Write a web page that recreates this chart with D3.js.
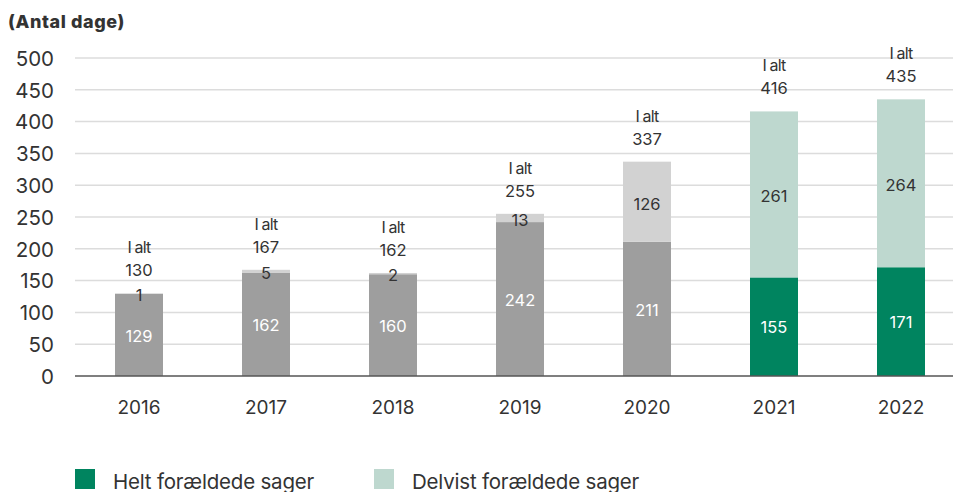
<!DOCTYPE html>
<html><head><meta charset="utf-8">
<script src="https://cdn.jsdelivr.net/npm/d3@7"></script>
<style>
body{margin:0;background:#fff;}
svg{font-family:"Inter","Liberation Sans",sans-serif;}
</style></head>
<body><svg id="c" width="953" height="492"></svg>
<script>
const years = ["2016","2017","2018","2019","2020","2021","2022"];
const helt = [129,162,160,242,211,155,171];
const delvist = [1,5,2,13,126,261,264];
const totals = [130,167,162,255,337,416,435];
const yTicks = [0,50,100,150,200,250,300,350,400,450,500];
const legendLabels = ["Helt forældede sager","Delvist forældede sager"];

const svg = d3.select("#c");
const W=953;
const x = d3.scaleBand().domain(years).range([75.5,964.5]).padding(0);
const y = d3.scaleLinear().domain([0,500]).range([376,58]);
const bw = 48;
const green = i => i>=5;
const col1 = i => green(i) ? "#00845f" : "#9e9e9e";
const col2 = i => green(i) ? "#bed8cf" : "#d2d2d2";
const txt="#333";

svg.append("text").attr("x",8).attr("y",28).attr("font-weight",800)
  .attr("font-size",18).attr("letter-spacing","0.6").attr("fill",txt).text("(Antal dage)");

// grid
svg.append("g").selectAll("line").data(yTicks.filter(d=>d>0)).join("line")
  .attr("x1",75).attr("x2",W).attr("y1",d=>y(d)).attr("y2",d=>y(d))
  .attr("stroke","#dcdcdc").attr("stroke-width",1.5);

const yAxis = d3.axisLeft(y).tickValues(yTicks).tickSize(0).tickPadding(0);
const gy = svg.append("g").attr("transform","translate(54,0)").call(yAxis);
gy.select(".domain").remove();
gy.selectAll("text").attr("font-size",20.5).attr("fill",txt).attr("font-family","Inter, sans-serif").attr("dy","0.36em");

// bars
const g = svg.append("g");
years.forEach((yr,i)=>{
  const cx = x(yr)+x.bandwidth()/2;
  g.append("rect").attr("x",cx-bw/2).attr("width",bw)
    .attr("y",y(helt[i])).attr("height",y(0)-y(helt[i])).attr("fill",col1(i));
  g.append("rect").attr("x",cx-bw/2).attr("width",bw)
    .attr("y",y(helt[i]+delvist[i])).attr("height",y(helt[i])-y(helt[i]+delvist[i])).attr("fill",col2(i));
  g.append("text").attr("x",cx).attr("y",y(helt[i]/2)+1).attr("dy","0.35em")
    .attr("text-anchor","middle").attr("font-size",16.5).attr("fill","#fff").text(helt[i]);
  g.append("text").attr("x",cx).attr("y",y(helt[i]+delvist[i]/2)+2).attr("dy","0.35em")
    .attr("text-anchor","middle").attr("font-size",16.5).attr("fill",txt).text(delvist[i]);
  g.append("text").attr("x",cx).attr("y",y(totals[i])-40).attr("text-anchor","middle")
    .attr("font-size",16).attr("fill",txt).attr("letter-spacing","-0.8").text("I alt");
  g.append("text").attr("x",cx).attr("y",y(totals[i])-17).attr("text-anchor","middle")
    .attr("font-size",16.5).attr("fill",txt).text(totals[i]);
});

// x axis
svg.append("line").attr("x1",75).attr("x2",W).attr("y1",y(0)).attr("y2",y(0))
  .attr("stroke","#555").attr("stroke-width",1.5);
const xAxis = d3.axisBottom(x).tickSize(0).tickPadding(0);
const gx = svg.append("g").attr("transform",`translate(0,${y(0)+31})`).call(xAxis);
gx.select(".domain").remove();
gx.selectAll("text").attr("font-size",19).attr("fill",txt).attr("dy","0.36em").attr("font-family","Inter, sans-serif");

// legend
const lx=[75,374];
legendLabels.forEach((l,i)=>{
  svg.append("rect").attr("x",lx[i]).attr("y",469).attr("width",20).attr("height",20)
    .attr("fill",i===0?"#00845f":"#bed8cf");
  svg.append("text").attr("x",lx[i]+38).attr("y",489).attr("font-size",20.5)
    .attr("letter-spacing","-0.2").attr("fill",txt).text(l);
});
</script></body></html>
